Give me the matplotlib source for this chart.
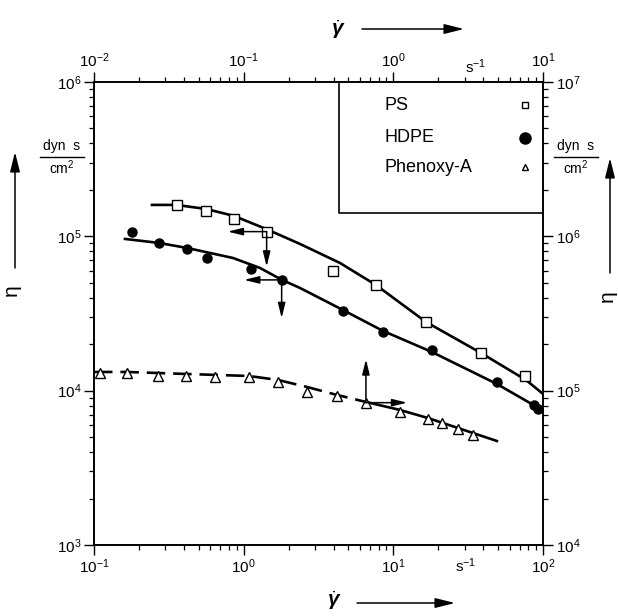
import numpy as np
import matplotlib
matplotlib.use("Agg")
import matplotlib.pyplot as plt
from matplotlib.ticker import LogLocator, NullFormatter, FixedLocator, FixedFormatter

plt.rcParams['font.family'] = ['Liberation Sans', 'DejaVu Sans']
plt.rcParams['mathtext.fontset'] = 'custom'
plt.rcParams['mathtext.rm'] = 'Liberation Sans'
plt.rcParams['mathtext.it'] = 'Liberation Sans:italic'
plt.rcParams['mathtext.bf'] = 'Liberation Sans:bold:italic'
plt.rcParams['mathtext.default'] = 'regular'

# ---------------- data (bottom / left axes) ----------------
ps_x = [0.357, 0.560, 0.861, 1.424, 3.93, 7.62, 16.44, 38.5, 76.0]
ps_y = [1.598e5, 1.468e5, 1.297e5, 1.073e5, 5.97e4, 4.86e4, 2.80e4, 1.748e4, 1.245e4]
ps_fit_x = [0.244, 0.353, 0.560, 0.862, 1.409, 2.377, 4.40, 7.65, 16.5, 38.5, 76.9, 98.3]
ps_fit_y = [1.598e5, 1.598e5, 1.505e5, 1.356e5, 1.117e5, 8.93e4, 6.72e4, 4.84e4, 2.79e4, 1.755e4, 1.173e4, 9.66e3]

hdpe_x = [0.180, 0.273, 0.416, 0.566, 1.119, 1.794, 4.63, 8.56, 18.1, 49.2, 86.9, 92.9]
hdpe_y = [1.073e5, 9.10e4, 8.25e4, 7.21e4, 6.12e4, 5.22e4, 3.30e4, 2.40e4, 1.844e4, 1.134e4, 8.08e3, 7.61e3]
hdpe_fit_x = [0.161, 0.272, 0.418, 0.848, 1.284, 1.803, 2.377, 4.61, 8.52, 18.1, 49.2, 81.8, 98.3]
hdpe_fit_y = [9.62e4, 9.06e4, 8.41e4, 7.24e4, 6.24e4, 5.22e4, 4.63e4, 3.33e4, 2.44e4, 1.781e4, 1.105e4, 8.32e3, 7.50e3]

# Phenoxy-A (top / right axes)
phen_x = [0.01096, 0.0167, 0.0269, 0.0412, 0.0643, 0.109, 0.169, 0.265, 0.422, 0.656,
          1.107, 1.695, 2.10, 2.69, 3.39]
phen_y = [1.30e5, 1.31e5, 1.25e5, 1.25e5, 1.23e5, 1.22e5, 1.13e5, 9.85e4, 9.24e4, 8.36e4,
          7.31e4, 6.53e4, 6.15e4, 5.65e4, 5.14e4]
phen_fit_x = [0.010, 0.0166, 0.0412, 0.1085, 0.1695, 0.2647, 0.420, 0.656, 1.107, 1.702, 2.70, 4.92]
phen_fit_y = [1.322e5, 1.322e5, 1.283e5, 1.245e5, 1.173e5, 1.057e5, 9.38e4, 8.45e4, 7.50e4, 6.65e4, 5.73e4, 4.72e4]
phen_dash_end = 0.656

bottom_ticks = [0.1, 1, 10, 100]
bottom_labels = ['$10^{-1}$', '$10^{0}$', '$10^{1}$', '$10^{2}$']
top_ticks = [0.01, 0.1, 1, 10]
top_labels = ['$10^{-2}$', '$10^{-1}$', '$10^{0}$', '$10^{1}$']
left_ticks = [1e3, 1e4, 1e5, 1e6]
left_labels = ['$10^{3}$', '$10^{4}$', '$10^{5}$', '$10^{6}$']
right_ticks = [1e4, 1e5, 1e6, 1e7]
right_labels = ['$10^{4}$', '$10^{5}$', '$10^{6}$', '$10^{7}$']
legend_names = ['PS', 'HDPE', 'Phenoxy-A']

# ---------------- figure ----------------
W, H = 618, 616
fig = plt.figure(figsize=(W / 100, H / 100), dpi=100)
pos = [94 / W, 1 - 545 / H, 449 / W, 463 / H]
ax = fig.add_axes(pos)
ax2 = fig.add_axes(pos)
ax2.patch.set_visible(False)

ax.set_xscale('log'); ax.set_yscale('log')
ax.set_xlim(0.1, 100); ax.set_ylim(1e3, 1e6)
ax2.set_xscale('log'); ax2.set_yscale('log')
ax2.set_xlim(0.01, 10); ax2.set_ylim(1e4, 1e7)

for a in (ax, ax2):
    for s in a.spines.values():
        s.set_linewidth(1.2)
ax2.xaxis.tick_top(); ax2.yaxis.tick_right()
ax.xaxis.tick_bottom(); ax.yaxis.tick_left()

tick_kw = dict(direction='out', colors='black', labelsize=11)
for a in (ax, ax2):
    a.tick_params(which='major', length=7, width=1.0, pad=2, **tick_kw)
    a.tick_params(which='minor', length=3.5, width=0.9, direction='out')
    a.xaxis.set_minor_locator(LogLocator(base=10, subs=np.arange(2, 10)))
    a.yaxis.set_minor_locator(LogLocator(base=10, subs=np.arange(2, 10)))
    a.xaxis.set_minor_formatter(NullFormatter())
    a.yaxis.set_minor_formatter(NullFormatter())

ax.xaxis.set_major_locator(FixedLocator(bottom_ticks))
ax.xaxis.set_major_formatter(FixedFormatter(bottom_labels))
ax.yaxis.set_major_locator(FixedLocator(left_ticks))
ax.yaxis.set_major_formatter(FixedFormatter(left_labels))
ax2.xaxis.set_major_locator(FixedLocator(top_ticks))
ax2.xaxis.set_major_formatter(FixedFormatter(top_labels))
ax2.yaxis.set_major_locator(FixedLocator(right_ticks))
ax2.yaxis.set_major_formatter(FixedFormatter(right_labels))

# unit labels on x axes
ax.text(30.5, -0.025, '$s^{-1}$', transform=ax.get_xaxis_transform(),
        ha='center', va='top', fontsize=11)
ax2.text(3.56, 1.012, '$s^{-1}$', transform=ax2.get_xaxis_transform(),
         ha='center', va='bottom', fontsize=11)

# ---------------- curves ----------------
lw = 1.9
ax.plot(ps_fit_x, ps_fit_y, color='black', lw=lw, zorder=2)
ax.plot(hdpe_fit_x, hdpe_fit_y, color='black', lw=lw, zorder=2)
px = np.array(phen_fit_x); py = np.array(phen_fit_y)
m1 = px <= phen_dash_end
m2 = px >= phen_dash_end
ax2.plot(px[m1], py[m1], color='black', lw=lw, dashes=(7, 3), zorder=2)
ax2.plot(px[m2], py[m2], color='black', lw=lw, zorder=2)

ax.plot(ps_x, ps_y, 's', ms=6.5, mfc='white', mec='black', mew=1.0, zorder=3)
ax.plot(hdpe_x, hdpe_y, 'o', ms=6.5, mfc='black', mec='black', zorder=3)
ax2.plot(phen_x, phen_y, '^', ms=7.5, mfc='white', mec='black', mew=1.0, zorder=3)

# ---------------- arrows ----------------
aprops = dict(arrowstyle='-|>,head_width=0.22,head_length=0.9', color='black', lw=1.1,
              shrinkA=0, shrinkB=0)
# PS -> left & down
ax.annotate('', xy=(0.782, ps_y[3]), xytext=(ps_x[3], ps_y[3]), arrowprops=aprops)
ax.annotate('', xy=(ps_x[3], 6.36e4), xytext=(ps_x[3], ps_y[3]), arrowprops=aprops)
# HDPE -> left & down
ax.annotate('', xy=(1.005, hdpe_y[5]), xytext=(hdpe_x[5], hdpe_y[5]), arrowprops=aprops)
ax.annotate('', xy=(hdpe_x[5], 2.95e4), xytext=(hdpe_x[5], hdpe_y[5]), arrowprops=aprops)
# Phenoxy -> up & right
ax2.annotate('', xy=(phen_x[9], 1.598e5), xytext=(phen_x[9], phen_y[9]), arrowprops=aprops)
ax2.annotate('', xy=(1.239, phen_y[9]), xytext=(phen_x[9], phen_y[9]), arrowprops=aprops)

# ---------------- legend box ----------------
lx0 = (339 - 94) / 449
ly0 = (545 - 213) / 463
ax.plot([lx0, lx0, 1], [1, ly0, ly0], color='black', lw=1.2, transform=ax.transAxes,
        clip_on=False, zorder=4)

def fx(x):
    return (x - 94) / 449

def fy(y):
    return (545 - y) / 463

leg_y = [105, 138, 168]
for name, yy in zip(legend_names, leg_y):
    ax.text(fx(385), fy(yy), name, transform=ax.transAxes, ha='left', va='center',
            fontsize=13)
ax.plot([fx(525)], [fy(105)], 's', ms=4.5, mfc='white', mec='black', mew=1.0,
        transform=ax.transAxes, clip_on=False)
ax.plot([fx(525)], [fy(138)], 'o', ms=8, mfc='black', mec='black',
        transform=ax.transAxes, clip_on=False)
ax.plot([fx(525)], [fy(167)], '^', ms=5, mfc='white', mec='black', mew=1.0,
        transform=ax.transAxes, clip_on=False)

# ---------------- outer labels ----------------
def F(x, y):
    return (x / W, 1 - y / H)

for cx in (62, 576):
    fig.text(*F(cx, 146), 'dyn  s', ha='center', va='center', fontsize=10)
    fig.text(*F(cx, 168), 'cm$^2$', ha='center', va='center', fontsize=10)
    fig.add_artist(plt.Line2D([(cx - 22) / W, (cx + 22) / W], [1 - 157 / H] * 2,
                              color='black', lw=1.0))

fa = dict(arrowstyle='-|>,head_width=0.25,head_length=1.0', color='black', lw=1.1,
          shrinkA=0, shrinkB=0)
# eta labels with arrows
fig.text(*F(15, 292), r'$\eta$', rotation=90, ha='center', va='center', fontsize=15)
fig.add_artist(matplotlib.patches.FancyArrowPatch(F(15, 268), F(15, 152),
               transform=fig.transFigure, mutation_scale=12, **fa))
fig.text(*F(610, 298), r'$\eta$', rotation=90, ha='center', va='center', fontsize=15)
fig.add_artist(matplotlib.patches.FancyArrowPatch(F(610, 273), F(610, 158),
               transform=fig.transFigure, mutation_scale=12, **fa))

# gamma-dot labels with arrows
fig.text(*F(334, 601), r'$\dot{\mathbf{\gamma}}$', ha='center', va='center', fontsize=15)
fig.add_artist(matplotlib.patches.FancyArrowPatch(F(357, 603), F(455, 603),
               transform=fig.transFigure, mutation_scale=12, **fa))
fig.text(*F(338, 30), r'$\dot{\mathbf{\gamma}}$', ha='center', va='center', fontsize=15)
fig.add_artist(matplotlib.patches.FancyArrowPatch(F(362, 29), F(464, 29),
               transform=fig.transFigure, mutation_scale=12, **fa))

fig.savefig('out.png', dpi=100)
